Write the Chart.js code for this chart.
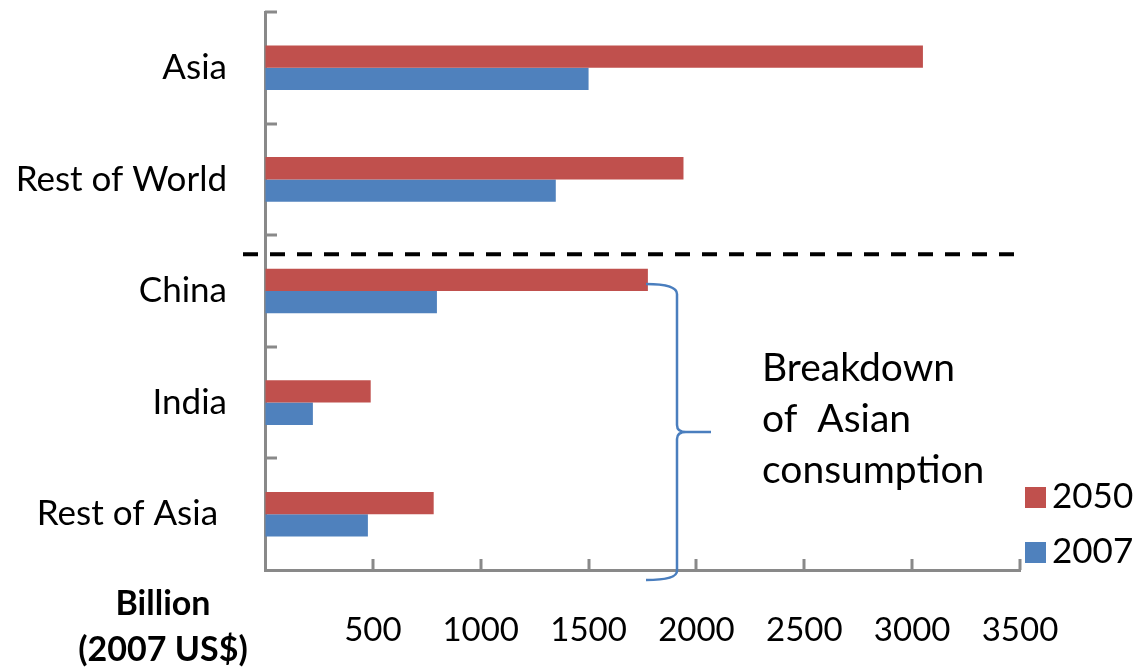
<!DOCTYPE html>
<html>
<head>
<meta charset="utf-8">
<script src="https://cdn.jsdelivr.net/npm/chart.js@4"></script>
<style>
    body { margin: 0; background: #fff; }
    #wrap { width: 1138px; height: 668px; position: relative; }
</style>
</head>
<body>
<div id="wrap"><canvas id="bar-chart"></canvas></div>
<script>
let regions = ['Asia', 'Rest of World', 'China', 'India', 'Rest of Asia '];
let years = ['2050', '2007'];
let values2050 = [3050, 1940, 1775, 490, 782];
let values2007 = [1500, 1348, 797, 222, 477];
let xTicks = [0, 500, 1000, 1500, 2000, 2500, 3000, 3500];
let noteLines = ['Breakdown', 'of  Asian', 'consumption'];
let unitLines = ['Billion', '(2007 US$)'];

let red = '#C0504D';
let blue = '#4F81BD';
let axisGrey = '#898989';
let fontName = 'Lato';

// inward tick marks, divider, brace, notes and legend
let extras = {
    id: 'extras',
    afterDraw(chart) {
        let ctx = chart.ctx;
        let area = chart.chartArea;
        let xs = chart.scales.x;
        let ys = chart.scales.y;

        ctx.save();
        ctx.strokeStyle = axisGrey;
        ctx.lineWidth = 3;
        ctx.beginPath();
        xTicks.forEach(v => {
            if (v === 0) return;
            let px = Math.round(xs.getPixelForValue(v));
            ctx.moveTo(px, area.bottom);
            ctx.lineTo(px, area.bottom - 11);
        });
        let band = (area.bottom - area.top) / regions.length;
        for (let i = 0; i < regions.length; i++) {
            let py = Math.round(area.top + i * band);
            ctx.moveTo(area.left, py);
            ctx.lineTo(area.left + 12, py);
        }
        ctx.stroke();

        // dashed divider between world and asian breakdown
        let dy = ys.getPixelForValue(1.67);
        ctx.strokeStyle = '#000';
        ctx.lineWidth = 4;
        ctx.setLineDash([15, 12]);
        ctx.beginPath();
        ctx.moveTo(243, dy);
        ctx.lineTo(1018, dy);
        ctx.stroke();
        ctx.setLineDash([]);

        // brace
        ctx.strokeStyle = '#4A7EBE';
        ctx.lineWidth = 2.5;
        ctx.beginPath();
        ctx.moveTo(646, 284);
        ctx.quadraticCurveTo(677, 284, 677, 294);
        ctx.lineTo(677, 425);
        ctx.quadraticCurveTo(677, 432, 686, 432);
        ctx.lineTo(711, 432);
        ctx.moveTo(686, 432);
        ctx.quadraticCurveTo(677, 432, 677, 439);
        ctx.lineTo(677, 571);
        ctx.quadraticCurveTo(677, 580, 646, 580);
        ctx.stroke();

        ctx.fillStyle = '#000';
        ctx.textBaseline = 'alphabetic';
        ctx.textAlign = 'left';
        ctx.font = '39px ' + fontName;
        noteLines.forEach((t, i) => ctx.fillText(t, 762, 381 + i * 51));

        ctx.textAlign = 'center';
        ctx.font = 'bold 34px ' + fontName;
        unitLines.forEach((t, i) => ctx.fillText(t, 163, 615 + i * 46));

        // legend
        ctx.textAlign = 'left';
        ctx.font = '35px ' + fontName;
        chart.data.datasets.forEach((ds, i) => {
            let top = 487 + i * 55;
            ctx.fillStyle = ds.backgroundColor;
            ctx.fillRect(1025, top, 21, 21);
            ctx.fillStyle = '#000';
            ctx.fillText(ds.label, 1052, top + 21);
        });
        ctx.restore();
    }
};

let chart_ele = document.getElementById('bar-chart').getContext('2d');

var chart = new Chart(chart_ele, {
    type: 'bar',
    data: {
        labels: regions,
        datasets: [{
            label: years[0],
            backgroundColor: red,
            data: values2050
        }, {
            label: years[1],
            backgroundColor: blue,
            data: values2007
        }]
    },
    options: {
        indexAxis: 'y',
        responsive: true,
        maintainAspectRatio: false,
        animation: false,
        layout: { padding: { top: 12, right: 118, left: 0, bottom: 0 } },
        categoryPercentage: 0.4,
        barPercentage: 1.0,
        plugins: {
            legend: { display: false },
            tooltip: { enabled: false }
        },
        scales: {
            x: {
                min: 0,
                max: 3500,
                afterFit(s) { s.height = 98; },
                afterBuildTicks(s) { s.ticks = xTicks.map(v => ({ value: v })); },
                grid: { display: true, drawOnChartArea: false, drawTicks: false },
                border: { color: axisGrey, width: 3 },
                ticks: {
                    padding: 41,
                    color: '#000',
                    font: { family: fontName, size: 33 },
                    callback: v => v === 0 ? '' : String(v)
                }
            },
            y: {
                afterFit(s) {
                    s.width = 265;
                    s.paddingTop = 0;
                    s.paddingBottom = 0;
                },
                grid: { display: true, drawOnChartArea: false, drawTicks: false },
                border: { color: axisGrey, width: 3 },
                ticks: {
                    padding: 38,
                    color: '#000',
                    font: { family: fontName, size: 35 }
                }
            }
        }
    },
    plugins: [extras]
});
</script>
</body>
</html>
